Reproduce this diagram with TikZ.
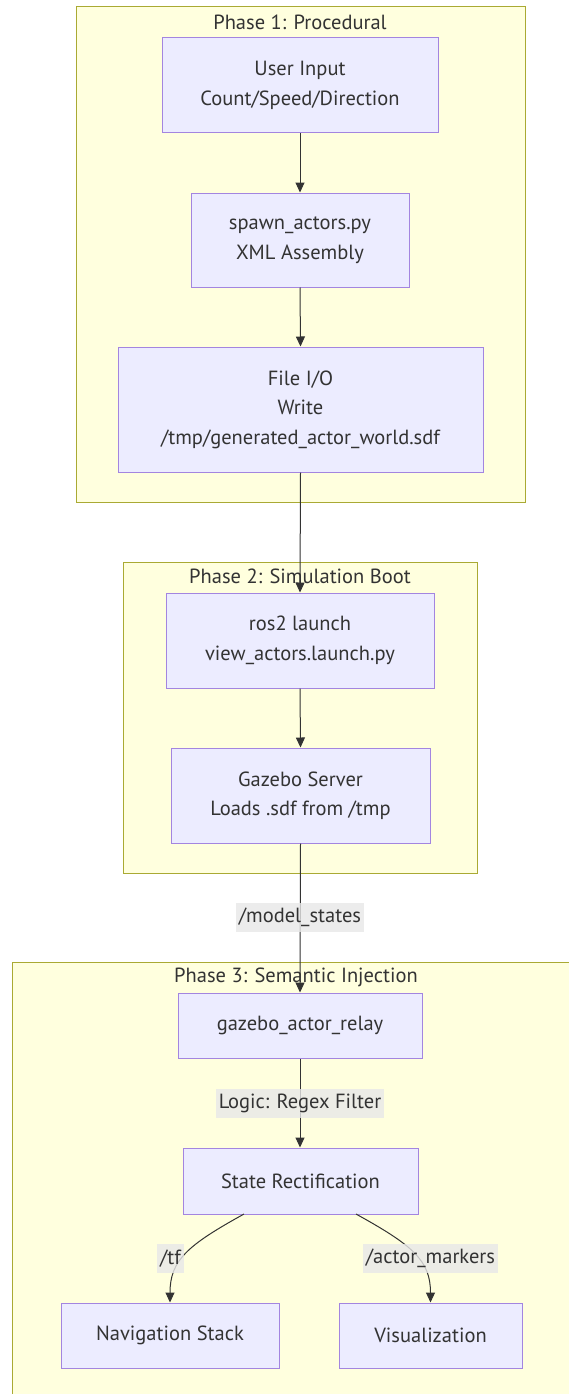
\documentclass[tikz,border=0pt]{standalone}
\usepackage{fontspec}
\setmainfont{PT Sans}
\usetikzlibrary{arrows.meta}
\definecolor{clfill}{HTML}{FFFFDE}
\definecolor{cldraw}{HTML}{AAAA33}
\definecolor{nfill}{HTML}{ECECFF}
\definecolor{ndraw}{HTML}{9370DB}
\definecolor{ink}{HTML}{333333}
\definecolor{lblbg}{HTML}{E8E8E8}

\begin{document}
\begin{tikzpicture}[x=1pt,y=-1pt,
  font=\fontsize{20.5}{29.5}\selectfont, text=ink,
  cluster/.style={draw=cldraw, fill=clfill, line width=1pt},
  ctitle/.style={inner sep=0pt, anchor=center},
  proc/.style={draw=ndraw!85!white, fill=nfill, line width=1pt, align=center, inner sep=0pt},
  flow/.style={draw=ink, line width=1pt, -{Triangle[length=10pt,width=9pt]}},
  elabel/.style={fill=lblbg, fill opacity=0.8, text opacity=1, inner xsep=3pt, inner ysep=0pt, minimum height=29pt}]

\useasboundingbox (0,0) rectangle (569,1394);
\fill[white] (0,0) rectangle (569,1394);

% subgraph frames
\draw[cluster] (76,7) rectangle (525,502);
\node[ctitle] (t1) at (300,22) {Phase 1: Procedural};
\draw[cluster] (123,562) rectangle (477,873);
\node[ctitle] (t2) at (300,576) {Phase 2: Simulation Boot};
\draw[cluster] (12,962) rectangle (590,1410);
\node[ctitle] (t3) at (296,977) {Phase 3: Semantic Injection};

% process boxes
\node[proc, minimum width=276pt, minimum height=95pt] (input) at (300,85.5) {User Input\\Count/Speed/Direction};
\node[proc, minimum width=218pt, minimum height=94pt] (spawn) at (300,240) {spawn\_actors.py\\XML Assembly};
\node[proc, minimum width=365pt, minimum height=125pt] (fileio) at (300.5,409.5) {File I/O\\Write\\/tmp/generated\_actor\_world.sdf};
\node[proc, minimum width=268pt, minimum height=95pt] (launch) at (300,640.5) {ros2 launch\\view\_actors.launch.py};
\node[proc, minimum width=259pt, minimum height=95pt] (gazebo) at (300.5,795.5) {Gazebo Server\\Loads .sdf from /tmp};
\node[proc, minimum width=244pt, minimum height=65pt] (relay) at (300,1025.5) {gazebo\_actor\_relay};
\node[proc, minimum width=235pt, minimum height=66pt] (rect) at (300.5,1181) {State Rectification};
\node[proc, minimum width=218pt, minimum height=65pt] (nav) at (170,1335.5) {Navigation Stack};
\node[proc, minimum width=183pt, minimum height=65pt] (vis) at (430.5,1335.5) {Visualization};

% edge end points on the lower fan-out
\coordinate (rectL) at (244,1214);
\coordinate (rectR) at (356,1214);

% connectors
\draw[flow] (input.south) -- (spawn.north);
\draw[flow] (spawn.south) -- (fileio.south |- fileio.north);
\draw[flow] (fileio.south) -- (launch.north);
\draw[flow] (launch.south) -- (gazebo.south |- gazebo.north);
\draw[flow] (gazebo.south) -- (relay.north);
\draw[flow] (relay.south) -- (rect.north -| relay.south);
\draw[flow] (rectL) .. controls (188,1245) and (170,1260) .. (nav.north);
\draw[flow] (rectR) .. controls (412,1245) and (430.5,1260) .. (vis.north);

% connector labels
\node[elabel] (lms) at (300,917.5) {/model\_states};
\node[elabel] (lrx) at (300,1103) {Logic: Regex Filter};
\node[elabel] (ltf) at (170.5,1258.5) {/tf};
\node[elabel] (lam) at (430.5,1258.5) {/actor\_markers};
\end{tikzpicture}
\end{document}
